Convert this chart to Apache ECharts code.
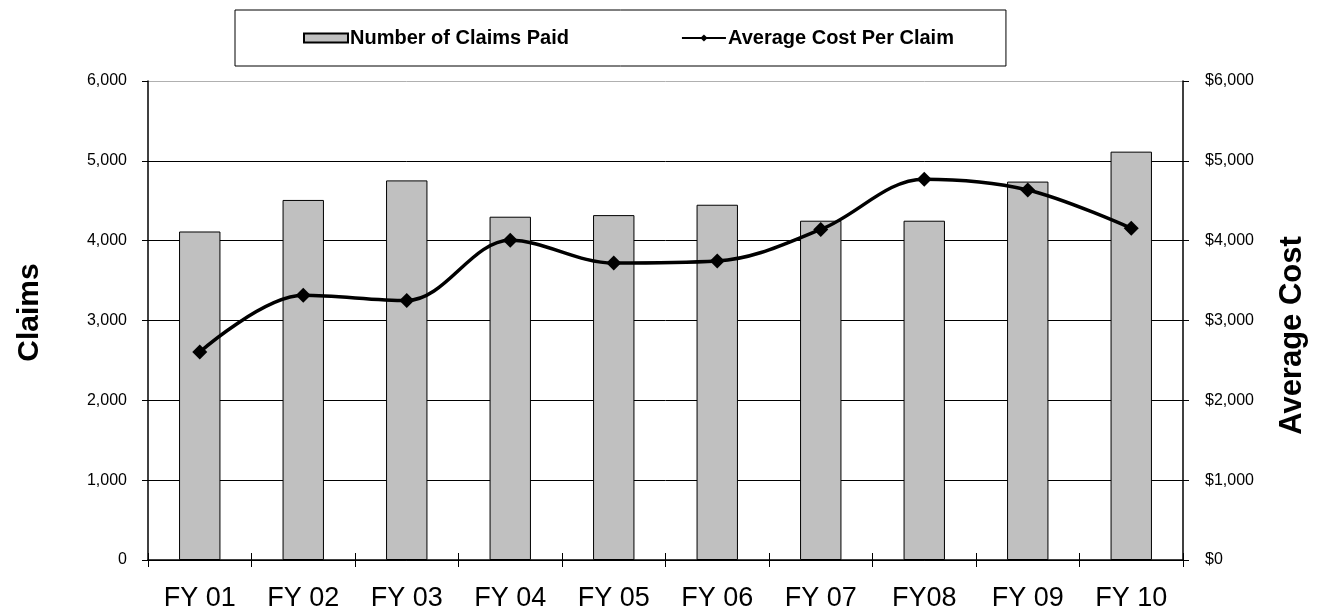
<!DOCTYPE html>
<html>
<head>
<meta charset="utf-8">
<script src="https://cdn.jsdelivr.net/npm/echarts@6/dist/echarts.min.js"></script>
<style>
  html, body { margin: 0; padding: 0; background: #fff; }
  #chart { width: 1326px; height: 613px; }
</style>
</head>
<body>
<div id="chart"></div>
<script>
// data
const categories = ['FY 01', 'FY 02', 'FY 03', 'FY 04', 'FY 05', 'FY 06', 'FY 07', 'FY08', 'FY 09', 'FY 10'];
const claimsPaid = [4115, 4510, 4755, 4300, 4320, 4450, 4250, 4250, 4740, 5115];
const avgCost = [2605, 3315, 3250, 4005, 3720, 3745, 4140, 4770, 4635, 4155];
const yTicks = [0, 1000, 2000, 3000, 4000, 5000, 6000];

const FONT = 'Liberation Sans, Arial, sans-serif';

function withComma(v) {
    return String(v).replace(/\B(?=(\d{3})+(?!\d))/g, ',');
}

const chart = echarts.init(document.getElementById('chart'));
chart.setOption({
    animation: false,
    textStyle: {fontFamily: FONT, color: '#000'},
    legend: {
        top: 10,
        left: 235,
        padding: [18, 52, 18, 68],
        itemGap: 112,
        itemWidth: 44,
        itemHeight: 9,
        borderColor: '#000',
        borderWidth: 1,
        textStyle: {fontSize: 20, fontWeight: 'bold', color: '#000', fontFamily: FONT, padding: [0, 0, 0, -3]},
        data: [
            {name: 'Number of Claims Paid', icon: 'rect'},
            {name: 'Average Cost Per Claim'}
        ]
    },
    grid: {left: 148, right: 143, top: 81, bottom: 53},
    xAxis: [
        {
            type: 'category',
            data: categories,
            axisLine: {lineStyle: {color: '#000', width: 1.5}},
            axisTick: {show: true, length: 7, lineStyle: {color: '#000'}},
            axisLabel: {fontSize: 27, color: '#000', margin: 25, interval: 0}
        },
        {
            // second axis only for the ticks that cross upward
            type: 'category',
            data: categories,
            position: 'bottom',
            axisLine: {show: false},
            axisTick: {show: true, inside: true, length: 7, lineStyle: {color: '#000'}},
            axisLabel: {show: false}
        }
    ],
    yAxis: [
        {
            type: 'value',
            min: 0,
            max: yTicks[yTicks.length - 1],
            interval: 1000,
            name: 'Claims',
            nameLocation: 'middle',
            nameRotate: 90,
            nameGap: 103,
            nameTextStyle: {fontSize: 30, fontWeight: 'bold', color: '#000', padding: [0, 0, 0, 16]},
            axisLine: {show: true, lineStyle: {color: '#000', width: 1.5}},
            axisTick: {show: true, length: 6, lineStyle: {color: '#000'}},
            axisLabel: {fontSize: 16, color: '#000', margin: 21, formatter: withComma},
            splitLine: {
                show: true,
                lineStyle: {color: ['#000', '#000', '#000', '#000', '#000', '#000', '#b0b0b0'], width: 1}
            }
        },
        {
            type: 'value',
            min: 0,
            max: yTicks[yTicks.length - 1],
            interval: 1000,
            name: 'Average Cost',
            nameLocation: 'middle',
            nameRotate: 90,
            nameGap: 94,
            nameTextStyle: {fontSize: 31, fontWeight: 'bold', color: '#000', padding: [0, 30, 0, 0]},
            axisLine: {show: true, lineStyle: {color: '#000', width: 1.5}},
            axisTick: {show: true, length: 6, lineStyle: {color: '#000'}},
            axisLabel: {fontSize: 16, color: '#000', margin: 22, formatter: v => '$' + withComma(v)},
            splitLine: {show: false}
        }
    ],
    series: [
        {
            name: 'Number of Claims Paid',
            type: 'bar',
            data: claimsPaid,
            barWidth: '40%',
            itemStyle: {color: '#c0c0c0', borderColor: '#000', borderWidth: 1}
        },
        {
            name: 'Average Cost Per Claim',
            type: 'line',
            yAxisIndex: 1,
            data: avgCost,
            smooth: 0.35,
            symbol: 'diamond',
            symbolSize: 15,
            lineStyle: {color: '#000', width: 3.5},
            itemStyle: {color: '#000'}
        }
    ]
});
</script>
</body>
</html>
